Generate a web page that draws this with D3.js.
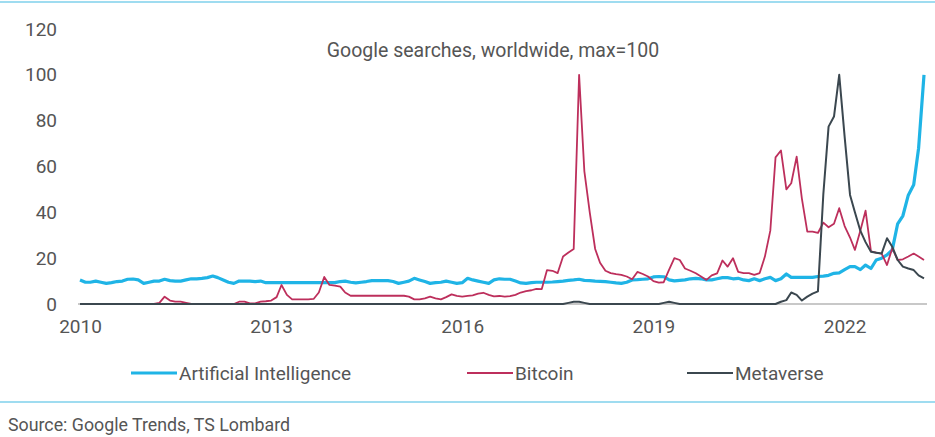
<!DOCTYPE html>
<html>
<head>
<meta charset="utf-8">
<script src="https://cdn.jsdelivr.net/npm/d3@7"></script>
<style>
  body { margin: 0; background: #fff; }
  text { font-family: Roboto, "Noto Sans", sans-serif; fill: #555; }
</style>
</head>
<body>
<div id="chart"></div>
<script>
var svgWidth = 935;
var svgHeight = 437;

// monthly, Jan 2010 .. Apr 2023
var startMonth = new Date(2010, 0, 1);
var endMonth = new Date(2023, 3, 1);
var months = d3.timeMonth.range(startMonth, d3.timeMonth.offset(endMonth, 1));

var seriesNames = ["Artificial Intelligence", "Bitcoin", "Metaverse"];

var aiValues = [
  10.5, 9.5, 9.5, 10, 9.5, 9, 9.3, 9.8, 10, 10.8,
  10.9, 10.5, 9, 9.5, 10, 10, 10.8, 10.2, 10, 10,
  10.5, 11, 11, 11.2, 11.5, 12.2, 11.5, 10.5, 9.5, 9,
  10, 10, 10, 9.8, 10, 9.3, 9.3, 9.3, 9.3, 9.3,
  9.3, 9.3, 9.3, 9.3, 9.3, 9.3, 9.3, 9.3, 9.3, 9.8,
  10, 9.5, 9.2, 9.5, 9.8, 10.2, 10.2, 10.2, 10.2, 9.8,
  9, 9.5, 10, 11.2, 10.5, 9.8, 9, 9.3, 9.5, 10,
  9.5, 9, 9.3, 11.2, 10.5, 10, 9.5, 9, 10.5, 11,
  10.8, 10.8, 10, 9.2, 9, 9.3, 9.5, 9.5, 9.5, 9.6,
  9.8, 10, 10.3, 10.5, 10.8, 10.3, 10.2, 10, 9.9, 9.8,
  9.5, 9.2, 9, 9.5, 10.5, 10.6, 10.8, 11, 11.8, 12,
  11.9, 10.5, 10.1, 10.3, 10.5, 11, 11.2, 11, 10.5, 10.5,
  11, 11.5, 11.5, 11, 11.2, 10.5, 10.2, 11, 10.2, 11,
  11.6, 10.2, 11, 13.1, 11.6, 11.6, 11.6, 11.6, 11.6, 12,
  12.2, 12.5, 13.4, 13.6, 15, 16.3, 16.3, 15, 17, 15.5,
  19.2, 20, 21.4, 23.6, 35, 38.5, 47.5, 52, 68, 100
];

var bitcoinValues = [
  0, 0, 0, 0, 0, 0, 0, 0, 0, 0,
  0, 0, 0, 0, 0, 0.5, 3.2, 1.5, 1, 1,
  0.5, 0, 0, 0, 0, 0, 0, 0, 0, 0,
  1, 1, 0.3, 0.3, 1, 1.2, 1.5, 3, 8.3, 4,
  2, 2, 2, 2, 2.2, 5, 11.8, 8.3, 8, 7.6,
  5, 3.6, 3.6, 3.6, 3.6, 3.6, 3.6, 3.6, 3.6, 3.6,
  3.6, 3.6, 3.2, 2, 2, 2.5, 3.2, 2.5, 2, 3,
  4.2, 3.5, 3.2, 3.5, 3.8, 4.5, 4.9, 4, 3.3, 3.5,
  3.2, 3.4, 4, 5, 5.6, 6, 6.6, 6.5, 14.8, 14.5,
  13.5, 20.7, 22.5, 24, 100, 58, 40, 24, 18, 14.5,
  13.5, 13, 12.7, 12, 10.8, 14, 13.1, 12, 10, 9.3,
  9.5, 15, 20, 19.2, 15.5, 14.5, 13.4, 12, 10.5, 12.5,
  13.4, 19, 16.3, 20, 14, 13.5, 13.5, 12.7, 13.5, 20.7,
  32, 64, 67, 50, 52.7, 64.3, 46, 31.6, 31.6, 31,
  35.5, 33.5, 35, 41.8, 34, 29, 23.6, 32, 40.7, 23,
  22.4, 22, 17, 24.3, 19.2, 19.5, 20.7, 22, 20.7, 19.2
];

var metaverseValues = [
  0, 0, 0, 0, 0, 0, 0, 0, 0, 0,
  0, 0, 0, 0, 0, 0, 0, 0, 0, 0,
  0, 0, 0, 0, 0, 0, 0, 0, 0, 0,
  0, 0, 0, 0, 0, 0, 0, 0, 0, 0,
  0, 0, 0, 0, 0, 0, 0, 0, 0, 0,
  0, 0, 0, 0, 0, 0, 0, 0, 0, 0,
  0, 0, 0, 0, 0, 0, 0, 0, 0, 0,
  0, 0, 0, 0, 0, 0, 0, 0, 0, 0,
  0, 0, 0, 0, 0, 0, 0, 0, 0, 0,
  0, 0, 0.5, 1, 1, 0.5, 0, 0, 0, 0,
  0, 0, 0, 0, 0, 0, 0, 0, 0, 0,
  0.5, 1, 0.5, 0, 0, 0, 0, 0, 0, 0,
  0, 0, 0, 0, 0, 0, 0, 0, 0, 0,
  0, 0, 1, 1.7, 5, 4, 1.5, 3.2, 4.5, 5.5,
  48, 77.4, 81.8, 100, 73, 47.6, 40, 32, 27, 22.8,
  22.4, 22, 28.7, 25, 19.2, 16.3, 15.5, 14.8, 12.5, 11.2
];

var yTicks = [0, 20, 40, 60, 80, 100, 120];
var xTickYears = [2010, 2013, 2016, 2019, 2022];

var colors = ["#1fb4e6", "#bd2f5c", "#3b474f"];
var widths = [3.2, 1.8, 2];

var x = d3.scaleTime()
  .domain([startMonth, endMonth])
  .range([80, 924]);

var y = d3.scaleLinear()
  .domain([0, 120])
  .range([304, 29]);

var svg = d3.select("#chart")
  .append("svg")
  .attr("width", svgWidth)
  .attr("height", svgHeight);

// frame rules top and bottom
svg.append("line")
  .attr("x1", 0).attr("x2", svgWidth)
  .attr("y1", 2).attr("y2", 2)
  .attr("stroke", "#9fdcf0").attr("stroke-width", 2);

svg.append("line")
  .attr("x1", 0).attr("x2", svgWidth)
  .attr("y1", 402).attr("y2", 402)
  .attr("stroke", "#9fdcf0").attr("stroke-width", 2);

// y axis (labels only)
var leftAxis = d3.axisLeft(y).tickValues(yTicks).tickSize(0).tickPadding(23);
var yAxisG = svg.append("g")
  .attr("transform", "translate(80,0)")
  .call(leftAxis);
yAxisG.select(".domain").remove();
yAxisG.selectAll("text").style("font-size", "19px").attr("fill", "#555");

// x axis
var bottomAxis = d3.axisBottom(x)
  .tickValues(xTickYears.map(d => new Date(d, 0, 1)))
  .tickFormat(d3.timeFormat("%Y"))
  .tickSize(0)
  .tickPadding(16);
var xAxisG = svg.append("g")
  .attr("transform", "translate(0,304)")
  .call(bottomAxis);
xAxisG.select(".domain")
  .attr("d", "M78,0H927")
  .attr("stroke", "#c8c8c8")
  .attr("stroke-width", 2);
xAxisG.selectAll("text").style("font-size", "19px").attr("fill", "#555");

// title
svg.append("text")
  .attr("x", 493)
  .attr("y", 57)
  .attr("text-anchor", "middle")
  .style("font-size", "19.5px")
  .text("Google searches, worldwide, max=100");

// lines
var allValues = [aiValues, bitcoinValues, metaverseValues];
var line = d3.line()
  .x((d, i) => x(months[i]))
  .y(d => y(d));

allValues.forEach(function (vals, k) {
  svg.append("path")
    .datum(vals)
    .attr("fill", "none")
    .attr("stroke", colors[k])
    .attr("stroke-width", widths[k])
    .attr("stroke-linejoin", "round")
    .attr("d", line);
});

// legend
var legendX = [131, 467, 687];
var legend = svg.append("g");
seriesNames.forEach(function (name, k) {
  legend.append("line")
    .attr("x1", legendX[k]).attr("x2", legendX[k] + 46)
    .attr("y1", 373).attr("y2", 373)
    .attr("stroke", colors[k])
    .attr("stroke-width", k === 0 ? 3.2 : 2.2);
  legend.append("text")
    .attr("x", legendX[k] + 48)
    .attr("y", 380)
    .style("font-size", "19px")
    .text(name);
});

// source
svg.append("text")
  .attr("x", 8)
  .attr("y", 431)
  .style("font-size", "17.8px")
  .text("Source: Google Trends, TS Lombard");
</script>
</body>
</html>
